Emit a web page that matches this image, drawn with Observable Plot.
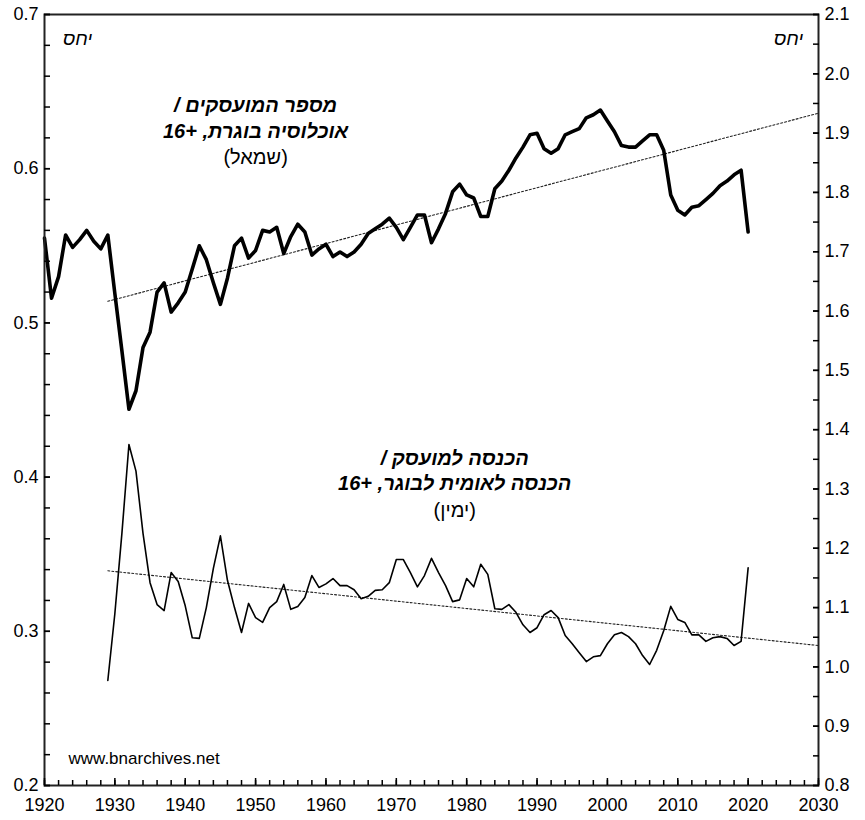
<!DOCTYPE html>
<html>
<head>
<meta charset="utf-8">
<script src="https://cdn.jsdelivr.net/npm/d3@7"></script>
<script src="https://cdn.jsdelivr.net/npm/@observablehq/plot@0.6"></script>
<style>
  html, body { margin: 0; padding: 0; background: #fff; }
</style>
</head>
<body>
<div id="chart"></div>
<script>
// ---- Data ----
// Employment / adult population 16+ (left axis), 1920-2020
const empYears = d3.range(1920, 2021);
const empRatio = [
  0.555, 0.516, 0.530, 0.557, 0.549, 0.554, 0.560, 0.553, 0.548, 0.557,
  0.519, 0.482, 0.444, 0.456, 0.484, 0.494, 0.520, 0.526, 0.507, 0.513,
  0.520, 0.535, 0.550, 0.541, 0.526, 0.512, 0.529, 0.550, 0.555, 0.542,
  0.547, 0.560, 0.559, 0.562, 0.545, 0.556, 0.564, 0.559, 0.544, 0.548,
  0.551, 0.543, 0.546, 0.543, 0.546, 0.551, 0.558, 0.561, 0.564, 0.568,
  0.562, 0.554, 0.562, 0.570, 0.570, 0.552, 0.561, 0.571, 0.585, 0.590,
  0.583, 0.581, 0.569, 0.569, 0.587, 0.592, 0.599, 0.607, 0.614, 0.622,
  0.623, 0.613, 0.610, 0.613, 0.622, 0.624, 0.626, 0.633, 0.635, 0.638,
  0.631, 0.624, 0.615, 0.614, 0.614, 0.618, 0.622, 0.622, 0.612, 0.583,
  0.573, 0.570, 0.575, 0.576, 0.580, 0.584, 0.589, 0.592, 0.596, 0.599,
  0.559
];
// Income per employee / national income per adult 16+ (right axis), 1929-2020
const incYears = d3.range(1929, 2021);
const incRatio = [
  0.977,
  1.090, 1.225, 1.375, 1.330, 1.225, 1.142, 1.105, 1.095, 1.159, 1.144,
  1.103, 1.049, 1.048, 1.100, 1.166, 1.221, 1.146, 1.100, 1.058, 1.107,
  1.083, 1.075, 1.100, 1.110, 1.139, 1.097, 1.102, 1.117, 1.154, 1.134,
  1.140, 1.149, 1.137, 1.137, 1.130, 1.115, 1.119, 1.129, 1.130, 1.142,
  1.181, 1.181, 1.159, 1.135, 1.154, 1.183, 1.159, 1.137, 1.110, 1.113,
  1.149, 1.135, 1.173, 1.156, 1.098, 1.097, 1.105, 1.092, 1.071, 1.058,
  1.066, 1.088, 1.095, 1.083, 1.053, 1.039, 1.024, 1.009, 1.017, 1.019,
  1.039, 1.054, 1.058, 1.051, 1.039, 1.019, 1.004, 1.028, 1.061, 1.102,
  1.080, 1.075, 1.054, 1.054, 1.043, 1.049, 1.051, 1.048, 1.036, 1.043,
  1.167
];
// Linear trend lines (end points)
const trendYears = [1929, 2030];
const empTrend = [0.514, 0.636];
const incTrend = [1.162, 1.036];

// Tick values
const xTicks = [1920, 1930, 1940, 1950, 1960, 1970, 1980, 1990, 2000, 2010, 2020, 2030];
const xMinorTicks = d3.range(1920, 2031, 2);
const leftTicks = [0.2, 0.3, 0.4, 0.5, 0.6, 0.7];
const leftMinorTicks = d3.range(0.2, 0.7001, 0.02);
const rightTicks = [0.8, 0.9, 1.0, 1.1, 1.2, 1.3, 1.4, 1.5, 1.6, 1.7, 1.8, 1.9, 2.0, 2.1];
const rightMinorTicks = d3.range(0.8, 2.1001, 0.05);

// Text
const unitLabel = "יחס";
const empLabel = ["מספר המועסקים /", "אוכלוסיה בוגרת, +16", "(שמאל)"];
const incLabel = ["הכנסה למועסק /", "הכנסה לאומית לבוגר, +16", "(ימין)"];
const sourceLabel = "www.bnarchives.net";

// ---- Build ----
const leftDomain = [0.2, 0.7];
const rightDomain = [0.8, 2.1];
const toLeft = r => leftDomain[0] + (r - rightDomain[0]) * (leftDomain[1] - leftDomain[0]) / (rightDomain[1] - rightDomain[0]);
const fromLeft = v => rightDomain[0] + (v - leftDomain[0]) * (rightDomain[1] - rightDomain[0]) / (leftDomain[1] - leftDomain[0]);

const emp = empYears.map((year, i) => ({year, value: empRatio[i]}));
const inc = incYears.map((year, i) => ({year, value: toLeft(incRatio[i])}));
const trend = trendYears.map((year, i) => ({year, emp: empTrend[i], inc: toLeft(incTrend[i])}));

const font = "'Liberation Sans', Arial, sans-serif";

const chart = Plot.plot({
  width: 865,
  height: 820,
  marginLeft: 44,
  marginRight: 47,
  marginTop: 14,
  marginBottom: 35,
  style: {fontFamily: font, fontSize: "18px", background: "#fff", color: "#000", overflow: "visible"},
  x: {domain: [1920, 2030]},
  y: {domain: leftDomain},
  marks: [
    // trend lines
    Plot.lineY(trend, {x: "year", y: "emp", stroke: "#222", strokeWidth: 1.1, strokeDasharray: "2,2"}),
    Plot.lineY(trend, {x: "year", y: "inc", stroke: "#222", strokeWidth: 1.1, strokeDasharray: "2,2"}),
    // series
    Plot.lineY(inc, {x: "year", y: "value", stroke: "#000", strokeWidth: 1.6}),
    Plot.lineY(emp, {x: "year", y: "value", stroke: "#000", strokeWidth: 3.6}),
    // frame
    Plot.frame({stroke: "#222", strokeWidth: 2}),
    // left axis
    Plot.axisY(leftTicks, {anchor: "left", tickSize: -6, tickPadding: 12, tickFormat: d => d.toFixed(1), fontSize: 18, label: null, strokeWidth: 1.5}),
    Plot.axisY(leftMinorTicks, {anchor: "left", tickSize: -6, tickFormat: () => "", label: null, strokeWidth: 1.5}),
    // right axis
    Plot.axisY(rightTicks.map(toLeft), {anchor: "right", tickSize: -6, tickPadding: 12, tickFormat: d => fromLeft(d).toFixed(1), fontSize: 18, label: null, strokeWidth: 1.5}),
    Plot.axisY(rightMinorTicks.map(toLeft), {anchor: "right", tickSize: -6, tickFormat: () => "", label: null, strokeWidth: 1.5}),
    // bottom axis
    Plot.axisX(xTicks, {anchor: "bottom", tickSize: -7, tickPadding: 20, tickFormat: d => String(d), fontSize: 18, label: null, strokeWidth: 1.5}),
    Plot.axisX(xMinorTicks, {anchor: "bottom", tickSize: -5, tickFormat: () => "", label: null, strokeWidth: 1.5}),
    // unit labels
    Plot.text([unitLabel], {text: d => d, frameAnchor: "top-left", dx: 33, dy: 24, textAnchor: "middle", lineAnchor: "middle", fontSize: 19, fontStyle: "italic"}),
    Plot.text([unitLabel], {text: d => d, frameAnchor: "top-right", dx: -30, dy: 24, textAnchor: "middle", lineAnchor: "middle", fontSize: 19, fontStyle: "italic"}),
    // series labels
    Plot.text([empLabel[0]], {text: d => d, x: 1950.0, y: 0.641, fontSize: 20, fontWeight: "bold", fontStyle: "italic"}),
    Plot.text([empLabel[1]], {text: d => d, x: 1950.0, y: 0.641, dy: 26, fontSize: 20, fontWeight: "bold", fontStyle: "italic"}),
    Plot.text([empLabel[2]], {text: d => d, x: 1950.0, y: 0.641, dy: 52, fontSize: 20}),
    Plot.text([incLabel[0]], {text: d => d, x: 1978.3, y: 0.4121, fontSize: 20, fontWeight: "bold", fontStyle: "italic"}),
    Plot.text([incLabel[1]], {text: d => d, x: 1978.3, y: 0.4121, dy: 25, fontSize: 20, fontWeight: "bold", fontStyle: "italic"}),
    Plot.text([incLabel[2]], {text: d => d, x: 1978.3, y: 0.4121, dy: 52, fontSize: 20}),
    // source
    Plot.text([sourceLabel], {text: d => d, frameAnchor: "bottom-left", dx: 24, dy: -27, textAnchor: "start", lineAnchor: "middle", fontSize: 17})
  ]
});

// Hebrew lines need right-to-left base direction
d3.select(chart).selectAll("text").filter(function() { return /[\u0590-\u05FF]/.test(this.textContent); })
  .attr("direction", "rtl").style("direction", "rtl").style("unicode-bidi", "embed");

document.getElementById("chart").appendChild(chart);
</script>
</body>
</html>
